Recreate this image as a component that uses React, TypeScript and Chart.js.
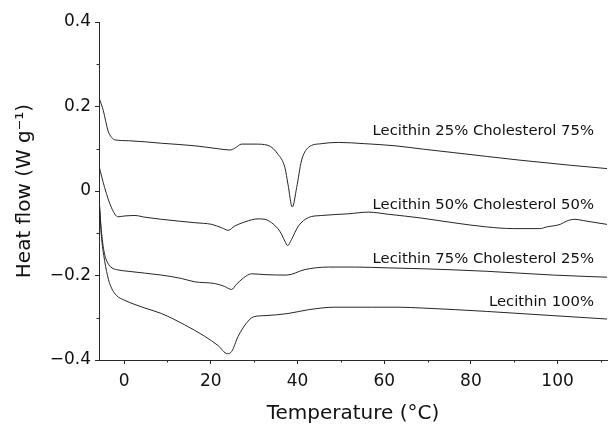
import { useEffect, useRef } from "react";
import { Chart, registerables } from "chart.js";

Chart.register(...registerables);

// Axis ticks
const xTicks = [0, 20, 40, 60, 80, 100];
const xMinorTicks = [10, 30, 50, 70, 90, 110];
const yTicks = [-0.4, -0.2, 0, 0.2, 0.4];
const yMinorTicks = [-0.3, -0.1, 0.1, 0.3];

// Series names (drawn as in-plot labels)
const seriesNames = [
  "Lecithin 25% Cholesterol 75%",
  "Lecithin 50% Cholesterol 50%",
  "Lecithin 75% Cholesterol 25%",
  "Lecithin 100%",
];
// Label anchors in data units (right end, baseline)
const labelT = [108.4, 108.4, 108.4, 108.4];
const labelH = [0.132, -0.043, -0.17, -0.273];

// Lecithin 25% Cholesterol 75%
const s1T = [-5.8, -4.8, -3.7, -2.9, -2.1, 1.0, 8.6, 16.3, 21.7, 24.4, 25.5, 27.1, 30.2, 33.2, 35.5, 37.1, 37.8, 38.8, 39.8, 40.9, 42.5, 45.5, 49.4, 55.5, 62.5, 69.0, 75.9, 91.3, 102.9, 111.4];
const s1H = [0.221, 0.19, 0.142, 0.127, 0.121, 0.119, 0.113, 0.107, 0.1, 0.097, 0.101, 0.111, 0.111, 0.108, 0.087, 0.055, 0.016, -0.038, 0.008, 0.071, 0.103, 0.112, 0.115, 0.112, 0.107, 0.099, 0.091, 0.073, 0.061, 0.053];

// Lecithin 50% Cholesterol 50%
const s2T = [-5.8, -4.5, -2.9, -1.4, 0.2, 2.5, 4.8, 8.6, 16.3, 20.2, 22.5, 24.0, 25.5, 27.9, 30.9, 32.5, 34.0, 35.9, 37.1, 37.7, 38.6, 40.2, 42.5, 45.5, 51.7, 56.3, 60.9, 68.5, 75.9, 83.6, 89.8, 95.9, 97.5, 100.6, 102.1, 104.0, 105.9, 111.4];
const s2H = [0.059, 0.008, -0.04, -0.061, -0.059, -0.058, -0.062, -0.067, -0.075, -0.079, -0.087, -0.093, -0.083, -0.073, -0.066, -0.067, -0.075, -0.095, -0.119, -0.129, -0.115, -0.083, -0.063, -0.058, -0.054, -0.05, -0.055, -0.064, -0.075, -0.085, -0.089, -0.089, -0.085, -0.079, -0.071, -0.067, -0.07, -0.079];

// Lecithin 75% Cholesterol 25%
const s3T = [-5.8, -5.2, -4.6, -3.8, -2.8, -1.8, 0.9, 8.6, 13.2, 16.3, 20.9, 23.2, 24.8, 25.9, 27.5, 29.4, 32.5, 37.5, 41.7, 47.1, 53.2, 61.0, 68.8, 83.6, 99.0, 111.4];
const s3H = [-0.02, -0.1, -0.145, -0.17, -0.182, -0.186, -0.19, -0.199, -0.207, -0.215, -0.219, -0.226, -0.233, -0.221, -0.206, -0.196, -0.198, -0.199, -0.186, -0.18, -0.18, -0.182, -0.184, -0.19, -0.199, -0.204];

// Lecithin 100%
const s4T = [-5.8, -5.3, -4.5, -3.6, -2.9, -1.8, 0.2, 4.8, 8.6, 14.0, 18.6, 21.7, 23.8, 24.8, 26.3, 28.2, 29.8, 32.5, 37.8, 42.5, 48.6, 57.1, 63.2, 68.8, 83.6, 99.0, 111.4];
const s4H = [-0.01, -0.1, -0.165, -0.21, -0.23, -0.247, -0.259, -0.277, -0.29, -0.317, -0.344, -0.366, -0.385, -0.38, -0.344, -0.313, -0.298, -0.295, -0.29, -0.281, -0.275, -0.275, -0.275, -0.277, -0.285, -0.295, -0.303];

const seriesT = [s1T, s2T, s3T, s4T];
const seriesH = [s1H, s2H, s3H, s4H];

const FONT = '"DejaVu Sans", "Open Sans", sans-serif';
const AXIS = "#2a2a2a";
const TEXT = "#111111";
const LINE = "#262626";

const fmtY = (v: number) => {
  if (Math.abs(v) < 1e-9) return "0";
  return (v < 0 ? "\u2212" : "") + Math.abs(v).toFixed(1);
};

const overlay = {
  id: "overlay",
  afterDraw(chart: any) {
    const { ctx, chartArea } = chart;
    const x = chart.scales.x;
    const y = chart.scales.y;
    ctx.save();
    ctx.strokeStyle = AXIS;
    ctx.lineWidth = 1;
    ctx.beginPath();
    xMinorTicks.forEach((v) => {
      const px = Math.round(x.getPixelForValue(v)) + 0.5;
      ctx.moveTo(px, chartArea.bottom);
      ctx.lineTo(px, chartArea.bottom + 2.5);
    });
    yMinorTicks.forEach((v) => {
      const py = Math.round(y.getPixelForValue(v)) + 0.5;
      ctx.moveTo(chartArea.left, py);
      ctx.lineTo(chartArea.left - 2.5, py);
    });
    ctx.stroke();
    ctx.fillStyle = TEXT;
    ctx.font = `14.8px ${FONT}`;
    ctx.textAlign = "right";
    ctx.textBaseline = "alphabetic";
    seriesNames.forEach((t, i) => {
      ctx.fillText(t, x.getPixelForValue(labelT[i]), y.getPixelForValue(labelH[i]));
    });
    ctx.restore();
  },
};

export default function App() {
  const ref = useRef<HTMLCanvasElement | null>(null);

  useEffect(() => {
    document.body.style.margin = "0";
    const canvas = ref.current;
    if (!canvas) return;
    const datasets = seriesNames.map((name, i) => ({
      label: name,
      data: seriesT[i].map((t, j) => ({ x: t, y: seriesH[i][j] })),
      borderColor: LINE,
      borderWidth: 1,
      pointRadius: 0,
      fill: false,
      cubicInterpolationMode: "monotone" as const,
    }));
    const chart = new Chart(canvas, {
      type: "line",
      data: { datasets },
      options: {
        animation: false,
        responsive: false,
        devicePixelRatio: 1,
        layout: { padding: { top: 22, right: 1, bottom: 0, left: 0 } },
        plugins: {
          legend: { display: false },
          tooltip: { enabled: false },
        },
        scales: {
          x: {
            type: "linear",
            min: -5.8,
            max: 111.4,
            afterBuildTicks: (s: any) => {
              s.ticks = xTicks.map((v) => ({ value: v }));
            },
            afterFit: (s: any) => {
              s.height = 64;
            },
            border: { display: true, color: AXIS, width: 1 },
            grid: { drawOnChartArea: false, drawTicks: true, tickLength: 4, color: AXIS },
            ticks: {
              color: TEXT,
              font: { family: FONT, size: 17 },
              padding: 7,
              maxRotation: 0,
              callback: (v: any) => String(v),
            },
            title: {
              display: true,
              text: "Temperature (\u00B0C)",
              color: TEXT,
              font: { family: FONT, size: 20 },
              padding: { top: 0, bottom: -2 },
            },
          },
          y: {
            type: "linear",
            min: -0.4,
            max: 0.4,
            afterBuildTicks: (s: any) => {
              s.ticks = yTicks.map((v) => ({ value: v }));
            },
            afterFit: (s: any) => {
              s.width = 99;
            },
            border: { display: true, color: AXIS, width: 1 },
            grid: { drawOnChartArea: false, drawTicks: true, tickLength: 4, color: AXIS },
            ticks: {
              color: TEXT,
              font: { family: FONT, size: 17 },
              padding: 4,
              callback: (v: any) => fmtY(Number(v)),
            },
            title: {
              display: true,
              text: "Heat flow (W g\u207B\u00B9)",
              color: TEXT,
              font: { family: FONT, size: 20 },
              padding: { top: 13, bottom: 0 },
            },
          },
        },
      },
      plugins: [overlay],
    });
    return () => chart.destroy();
  }, []);

  return (
    <div style={{ width: 608, height: 424 }}>
      <canvas ref={ref} width={608} height={424} />
    </div>
  );
}
